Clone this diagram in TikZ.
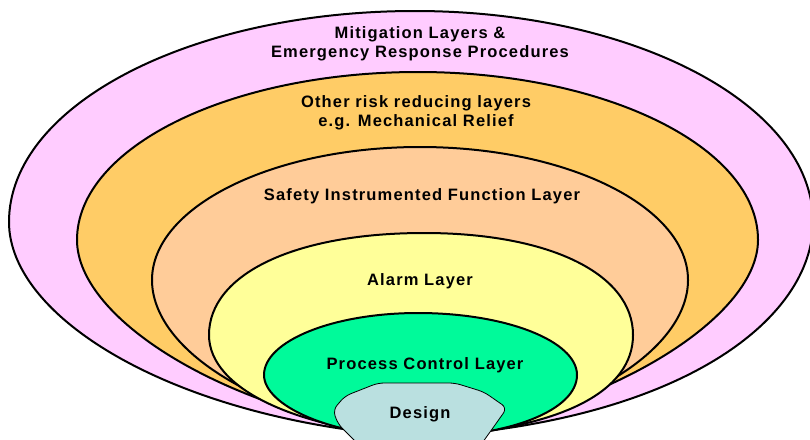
\documentclass[tikz,border=0pt]{standalone}
\usepackage{fontspec}
\setmainfont{Liberation Sans}
\newfontfamily\labelfont[LetterSpace=7]{Liberation Sans}

\definecolor{mitig}{HTML}{FFCCFF}
\definecolor{otherrisk}{HTML}{FFCC66}
\definecolor{sif}{HTML}{FFCC99}
\definecolor{alarm}{HTML}{FFFF99}
\definecolor{pcl}{HTML}{00FA9A}
\definecolor{design}{HTML}{BAE0E0}

\tikzset{
  layer/.style={draw=black, line width=2pt, line join=round},
  lbl/.style={font=\labelfont\bfseries\fontsize{16.5}{19}\selectfont,
              align=center, inner sep=0pt, text=black},
}

\begin{document}
\begin{tikzpicture}[x=1pt, y=-1pt]
\clip (0,0) rectangle (810,439);
\fill[white] (0,0) rectangle (810,439);

% every layer is an egg shape: elliptical crown, tapering to a common tip
\coordinate (tip) at (420,437);

% outermost: mitigation / emergency response
\path[layer, fill=mitig]
  (tip) .. controls (180,422) and (9,320) .. (9,222)
  .. controls (9,105) and (191,11) .. (415,11)
  .. controls (635,11) and (813,105) .. (813,222)
  .. controls (813,320) and (680,422) .. (tip) -- cycle;

% other risk reducing layers
\path[layer, fill=otherrisk]
  (tip) .. controls (230,415) and (77,320) .. (77,240)
  .. controls (77,147) and (230,72) .. (418,72)
  .. controls (605,72) and (758,147) .. (758,240)
  .. controls (758,320) and (600,415) .. (tip) -- cycle;

% safety instrumented function layer
\path[layer, fill=sif]
  (tip) .. controls (260,420) and (152,350) .. (152,280)
  .. controls (152,207) and (272,147) .. (420,147)
  .. controls (568,147) and (688,207) .. (688,280)
  .. controls (688,350) and (580,420) .. (tip) -- cycle;

% alarm layer
\path[layer, fill=alarm]
  (tip) .. controls (300,430) and (209,390) .. (209,335)
  .. controls (209,274) and (295,233) .. (424,233)
  .. controls (550,233) and (633,274) .. (633,335)
  .. controls (633,390) and (565,430) .. (tip) -- cycle;

% process control layer
\path[layer, fill=pcl]
  (tip) .. controls (330,437) and (264,405) .. (264,375)
  .. controls (264,341) and (333,313) .. (418,313)
  .. controls (506,313) and (577,341) .. (577,375)
  .. controls (577,410) and (510,437) .. (tip) -- cycle;

% design core
\path[draw=black, line width=0.8pt, fill=design, rounded corners=6pt]
  (360,446) -- (338,424) -- (333,410) -- (345,396) -- (378,383)
  -- (455,383) -- (484,392) -- (507,408) -- (495,425) -- (480,446) -- cycle;

\node[lbl] (mit) at (420,44) {Mitigation Layers \&\\Emergency Response Procedures};
\node[lbl] (oth) at (416,113) {Other risk reducing layers\\e.g. Mechanical Relief};
\node[lbl] (saf) at (422,196) {Safety Instrumented Function Layer};
\node[lbl] (alm) at (420,281) {Alarm Layer};
\node[lbl] (pcn) at (425,365) {Process Control Layer};
\node[lbl] (des) at (420,414) {Design};
\end{tikzpicture}
\end{document}
